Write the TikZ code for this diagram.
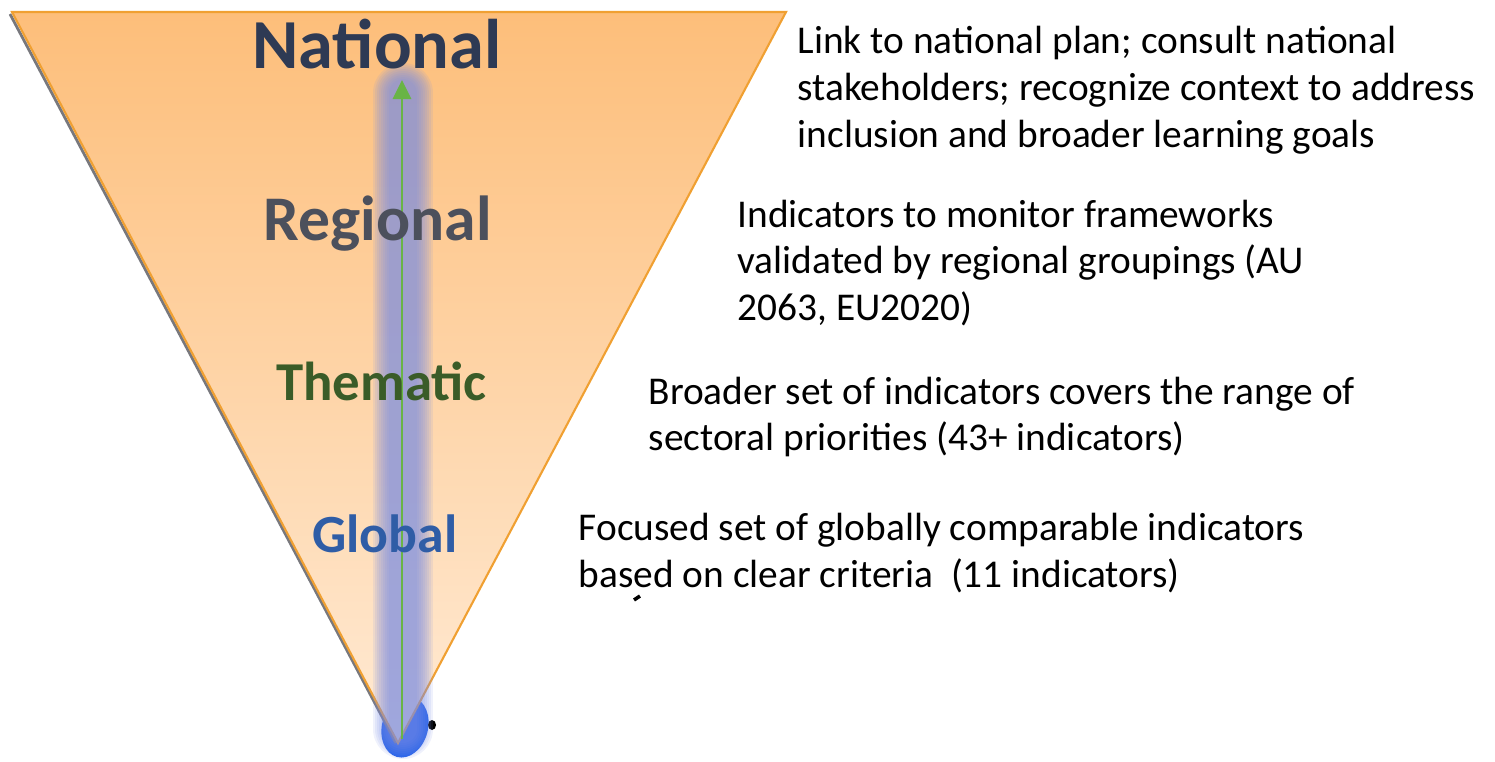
\documentclass[tikz,border=0pt]{standalone}
\usepackage{xcolor}
\usepackage{fontspec}
\setmainfont{Carlito}
\usetikzlibrary{arrows.meta}

\definecolor{conoarriba}{RGB}{253,190,122}
\definecolor{conoabajo}{RGB}{255,234,212}
\definecolor{bordecono}{RGB}{240,160,50}
\definecolor{sombracono}{RGB}{120,120,125}
\definecolor{azulhaz}{RGB}{120,140,230}
\definecolor{azulgota}{RGB}{30,95,235}
\definecolor{verdeflecha}{RGB}{105,180,70}
\definecolor{colnacional}{RGB}{46,58,84}
\definecolor{colregional}{RGB}{76,80,92}
\definecolor{coltematico}{RGB}{58,92,40}
\definecolor{colglobal}{RGB}{47,93,166}

\tikzset{
  nivel/.style={font=\bfseries, inner sep=0pt, anchor=base},
  descripcion/.style={font=\fontsize{11.2}{13.3}\selectfont, align=left, inner sep=0pt, anchor=west}
}

\begin{document}
\begin{tikzpicture}

    \useasboundingbox (0,0) rectangle (14.95,7.61);

    % gota azul en la punta
    \fill[azulgota, rotate around={-15:(4.05,0.34)}] (4.05,0.34) ellipse [x radius=0.23, y radius=0.31];
    \fill[black] (4.32,0.36) ellipse [x radius=0.04, y radius=0.05];

    % cono invertido
    \draw[sombracono, line width=0.8pt] (0.10,7.47) -- (3.96,0.18);
    \shade[top color=conoarriba, bottom color=conoabajo] (0.12,7.49) -- (7.86,7.49) -- (3.98,0.18) -- cycle;
    \draw[bordecono, line width=0.6pt] (0.12,7.49) -- (7.86,7.49) -- (3.98,0.18) -- cycle;

    % haz azul difuso
    \foreach \w in {0.60,0.56,...,0.26}
        \draw[azulhaz, opacity=0.12, line width=\w cm, line cap=round] (4.03,0.32) -- (4.03,6.68);

    % flecha verde
    \coordinate (base) at (4.02,0.22);
    \coordinate (punta) at (4.02,6.81);
    \draw[verdeflecha, line width=0.85pt, -{Triangle[length=0.19cm, width=0.18cm]}] (base) -- (punta);

    % niveles
    \node[nivel, text=colnacional, font=\bfseries\fontsize{20}{22}\selectfont] (nacional) at (3.77,6.93) {National};
    \node[nivel, text=colregional, font=\bfseries\fontsize{18.1}{20}\selectfont] (regional) at (3.775,5.21) {Regional};
    \node[nivel, text=coltematico, font=\bfseries\fontsize{15.6}{18}\selectfont] (tematico) at (3.815,3.61) {Thematic};
    \node[nivel, text=colglobal, font=\bfseries\fontsize{15.3}{18}\selectfont] (global) at (3.85,2.09) {Global};

    % descripciones
    \node[descripcion] (descnac) at (7.97,6.71) {Link to national plan; consult national\\stakeholders; recognize context to address\\inclusion and broader learning goals};
    \node[descripcion] (descreg) at (7.37,4.98) {Indicators to monitor frameworks\\validated by regional groupings (AU\\2063, EU2020)};
    \node[descripcion] (desctem) at (6.48,3.44) {Broader set of indicators covers the range of\\sectoral priorities (43+ indicators)};
    \node[descripcion] (descglo) at (5.78,2.08) {Focused set of globally comparable indicators\\based on clear criteria\ \ (11 indicators)};

    % marca suelta
    \draw[black, line width=1pt] (6.34,1.61) -- (6.40,1.65);

\end{tikzpicture}
\end{document}
